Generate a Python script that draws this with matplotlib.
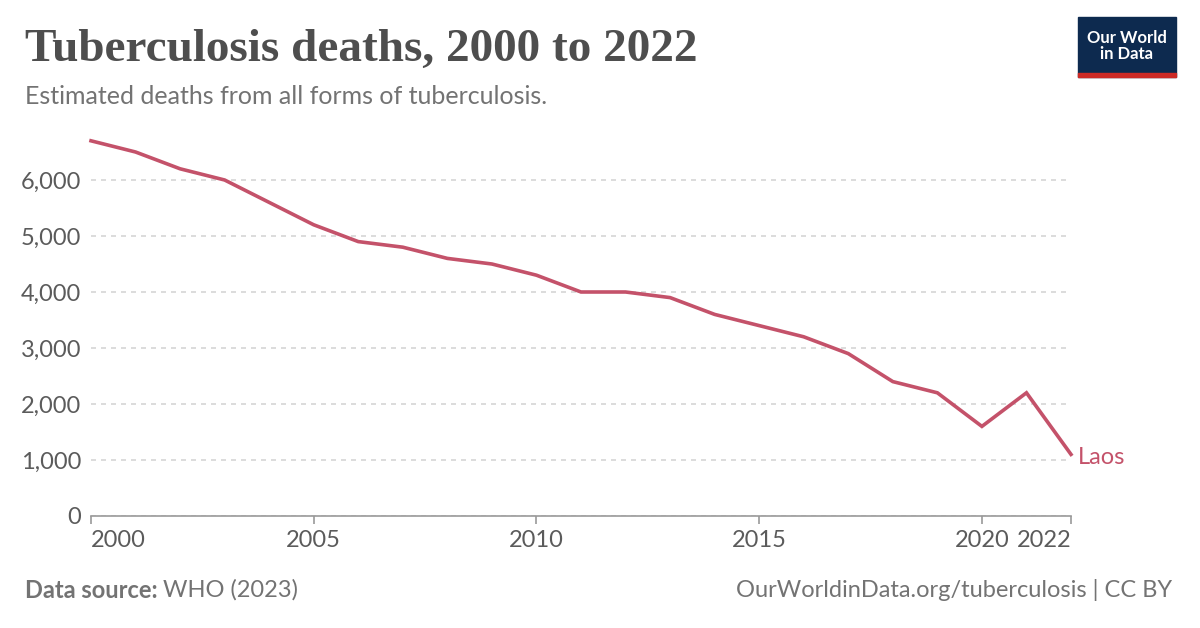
import matplotlib
matplotlib.use("Agg")
import matplotlib.pyplot as plt
from matplotlib.patches import Rectangle

years = list(range(2000, 2023))
deaths = [6700, 6500, 6200, 6000, 5600, 5200, 4900, 4800, 4600, 4500, 4300,
          4000, 4000, 3900, 3600, 3400, 3200, 2900, 2400, 2200, 1600, 2200, 1100]
yticks = [0, 1000, 2000, 3000, 4000, 5000, 6000]
ytick_labels = ["0", "1,000", "2,000", "3,000", "4,000", "5,000", "6,000"]
xticks = [2000, 2005, 2010, 2015, 2020, 2022]
country = "Laos"

W, H = 1200, 628
fig = plt.figure(figsize=(W / 100, H / 100), dpi=100)
plt.rcParams['font.family'] = ['Lato', 'DejaVu Sans']

ymax = 6800
px_per_unit = 56 / 1000
top_px = 516 - ymax * px_per_unit
ax = fig.add_axes([91 / W, 1 - 516 / H, (1071 - 91) / W, (516 - top_px) / H])
line_color = "#c4526a"
ax.plot(years, deaths, color=line_color, lw=2.6, solid_joinstyle="miter", clip_on=False)
ax.set_xlim(2000, 2022)
ax.set_ylim(0, ymax)

for s in ["top", "right", "left"]:
    ax.spines[s].set_visible(False)
ax.spines["bottom"].set_color("#999999")
ax.spines["bottom"].set_linewidth(1.2)

ax.set_yticks(yticks)
ax.set_yticklabels(ytick_labels)
ax.tick_params(axis="y", length=0, pad=7, labelsize=17, labelcolor="#5b5b5b")
ax.yaxis.grid(True, color="#d6d6d6", linestyle=(0, (3, 3)), lw=1.2)
ax.set_axisbelow(True)

ax.set_xticks(xticks)
ax.set_xticklabels([])
ax.tick_params(axis="x", length=6, width=1.2, color="#999999")
for x in xticks:
    ha = "center"
    if x == 2000:
        ha = "left"
    elif x == 2022:
        ha = "right"
    ax.annotate(str(x), xy=(x, 0), xycoords="data", xytext=(0, -10),
                textcoords="offset points", ha=ha, va="top", fontsize=17, color="#5b5b5b")

ax.annotate(country, xy=(years[-1], deaths[-1]), xytext=(5, -2),
            textcoords="offset points", ha="left", va="center",
            fontsize=17, color=line_color, annotation_clip=False)

# Title and subtitle
fig.text(25 / W, 1 - 50 / H, "Tuberculosis deaths, 2000 to 2022",
         fontsize=34, color="#4e4e4e", family=["Liberation Serif", "DejaVu Serif"],
         fontweight="bold", va="center", ha="left")
fig.text(25 / W, 1 - 96 / H, "Estimated deaths from all forms of tuberculosis.",
         fontsize=18, color="#737373", va="center", ha="left")

# Footer
t = fig.text(25 / W, 1 - 590 / H, "Data source:", fontsize=17, color="#737373",
             fontweight="bold", va="center", ha="left")
fig.canvas.draw()
bb = t.get_window_extent()
fig.text((bb.x1 + 5) / W, 1 - 590 / H, "WHO (2023)", fontsize=17, color="#737373",
         va="center", ha="left")
fig.text(1172 / W, 1 - 590 / H, "OurWorldinData.org/tuberculosis | CC BY",
         fontsize=17, color="#737373", va="center", ha="right")

# Logo
fig.patches.append(Rectangle((1078 / W, 1 - 77 / H), 98 / W, 60 / H,
                             transform=fig.transFigure, color="#0d2a4f", zorder=5))
fig.patches.append(Rectangle((1078 / W, 1 - 77 / H), 98 / W, 4 / H,
                             transform=fig.transFigure, color="#cd2a26", zorder=6))
fig.text(1127 / W, 1 - 46 / H, "Our World\nin Data", fontsize=12, color="white",
         ha="center", va="center", fontweight="bold", linespacing=1.0, zorder=7)

fig.savefig("out.png", dpi=100, facecolor="white")
